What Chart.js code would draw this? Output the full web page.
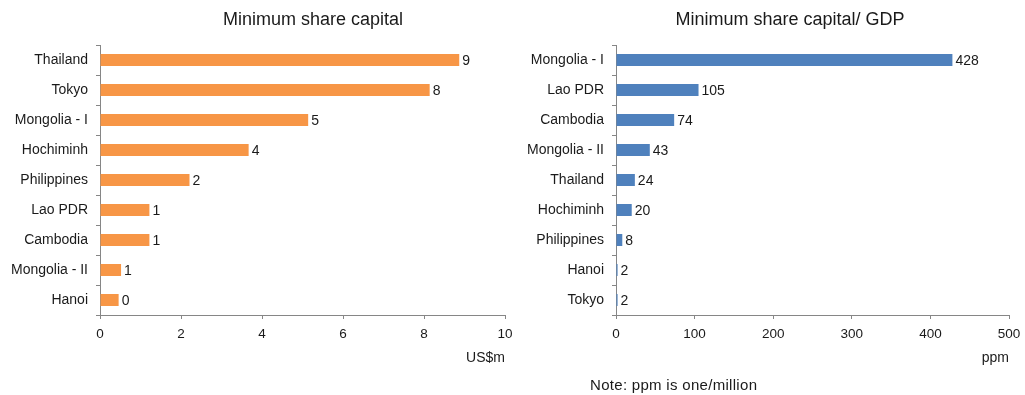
<!DOCTYPE html>
<html>
<head>
<meta charset="utf-8">
<script src="https://cdn.jsdelivr.net/npm/chart.js@4.4.1/dist/chart.umd.min.js"></script>
<style>
  body { margin: 0; background: #fff; font-family: "Liberation Sans", Arial, sans-serif; color: #1a1a1a; }
  #wrap { position: relative; width: 1025px; height: 395px; overflow: hidden; }
  .box { position: absolute; top: 0; height: 395px; }
  .title { position: absolute; top: 10px; font-size: 18px; line-height: 18px; white-space: nowrap; transform: translateX(-50%); }
  .note { position: absolute; left: 590px; top: 377px; font-size: 15px; line-height: 15px; letter-spacing: 0.3px; white-space: nowrap; }
</style>
</head>
<body>
<div id="wrap">
  <div class="box" style="left:0;width:520px"><canvas id="capital-chart"></canvas></div>
  <div class="box" style="left:520px;width:505px"><canvas id="gdp-chart"></canvas></div>
  <div class="title" style="left:313px">Minimum share capital</div>
  <div class="title" style="left:790px">Minimum share capital/ GDP</div>
  <div class="note">Note: ppm is one/million</div>
</div>
<script>
// minimum share capital, US$m
const capitalLabels = ["Thailand", "Tokyo", "Mongolia - I", "Hochiminh", "Philippines", "Lao PDR", "Cambodia", "Mongolia - II", "Hanoi"];
const capitalValues = [8.87, 8.14, 5.14, 3.67, 2.21, 1.22, 1.22, 0.52, 0.46];

// minimum share capital relative to GDP, ppm
const gdpLabels = ["Mongolia - I", "Lao PDR", "Cambodia", "Mongolia - II", "Thailand", "Hochiminh", "Philippines", "Hanoi", "Tokyo"];
const gdpValues = [428, 105, 74, 43, 24, 20, 8, 2, 2];

const capitalTicks = { min: 0, max: 10, step: 2 };
const gdpTicks = { min: 0, max: 500, step: 100 };

const textColor = "#1a1a1a";
const axisColor = "#868686";
const fontFamily = "'Liberation Sans', Arial, sans-serif";

// writes the value just past the end of each bar
const barValueLabels = {
   id: "barValueLabels",
   afterDatasetsDraw(chart, args, opts) {
      const { ctx } = chart;
      const meta = chart.getDatasetMeta(0);
      const data = chart.data.datasets[0].data;
      ctx.save();
      ctx.font = "14px " + fontFamily;
      ctx.fillStyle = textColor;
      ctx.textAlign = "left";
      ctx.textBaseline = "middle";
      meta.data.forEach((bar, i) => {
         ctx.fillText(opts.format(data[i]), bar.x + 3, bar.y + 1);
      });
      ctx.restore();
   },
};

function buildChart(canvasId, labels, values, color, ticks, unit, yWidth, rightPad, format) {
   return new Chart(document.getElementById(canvasId), {
      type: "bar",
      data: {
         labels: labels,
         datasets: [
            {
               data: values,
               backgroundColor: color,
               borderWidth: 0,
               barPercentage: 0.4,
               categoryPercentage: 1,
            },
         ],
      },
      plugins: [barValueLabels],
      options: {
         indexAxis: "y",
         responsive: false,
         animation: false,
         devicePixelRatio: 1,
         layout: { padding: { top: 45, right: rightPad, bottom: 20, left: 0 } },
         plugins: {
            legend: { display: false },
            tooltip: { enabled: false },
            barValueLabels: { format: format },
         },
         scales: {
            x: {
               min: ticks.min,
               max: ticks.max,
               afterFit: (scale) => {
                  scale.height = 60;
                  // the layout padding already leaves room for the last tick label
                  scale.paddingRight = 0;
               },
               ticks: {
                  stepSize: ticks.step,
                  color: textColor,
                  font: { family: fontFamily, size: 13.5 },
                  padding: 7,
                  maxRotation: 0,
               },
               grid: {
                  drawOnChartArea: false,
                  drawTicks: true,
                  tickLength: 4,
                  color: axisColor,
               },
               border: { display: true, color: axisColor },
               title: {
                  display: true,
                  text: unit,
                  align: "end",
                  color: textColor,
                  font: { family: fontFamily, size: 14 },
                  padding: { top: 0, bottom: 8 },
               },
            },
            y: {
               afterFit: (scale) => {
                  scale.width = yWidth;
               },
               ticks: {
                  color: textColor,
                  font: { family: fontFamily, size: 14 },
                  padding: 8,
               },
               grid: {
                  offset: true,
                  drawOnChartArea: false,
                  drawTicks: true,
                  tickLength: 4,
                  color: axisColor,
               },
               border: { display: true, color: axisColor },
            },
         },
      },
   });
}

document.getElementById("capital-chart").width = 520;
document.getElementById("capital-chart").height = 395;
document.getElementById("gdp-chart").width = 505;
document.getElementById("gdp-chart").height = 395;

buildChart("capital-chart", capitalLabels, capitalValues, "#f79646", capitalTicks, "US$m", 100, 15, (v) => String(Math.round(v)));
buildChart("gdp-chart", gdpLabels, gdpValues, "#4f81bd", gdpTicks, "ppm", 96, 16, (v) => String(v));
</script>
</body>
</html>
